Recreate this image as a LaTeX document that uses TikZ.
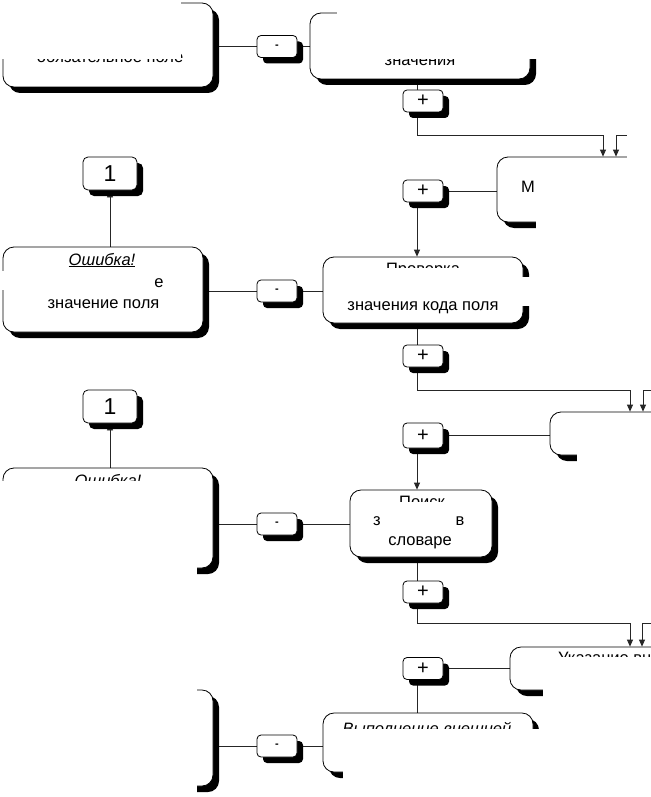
\documentclass[tikz,border=0pt]{standalone}
\usepackage{fontspec}
\setmainfont{Liberation Sans}
\usetikzlibrary{arrows.meta,shadows}
\pgfdeclarelayer{background}
\pgfsetlayers{background,main}
\begin{document}
\begin{tikzpicture}[x=1pt,y=-1pt,
  box/.style={draw=black,line width=0.8pt,fill=white,rounded corners=11pt,inner sep=0pt,
    drop shadow={shadow xshift=6pt,shadow yshift=-6pt,fill=black,opacity=1}},
  sbox/.style={box,rounded corners=4pt,minimum width=40pt,minimum height=22pt},
  plusbox/.style={sbox,font=\fontsize{20}{20}\selectfont},
  minusbox/.style={sbox,font=\fontsize{11}{11}\selectfont\bfseries},
  onebox/.style={box,rounded corners=5pt,minimum width=54pt,minimum height=33pt,font=\fontsize{23}{23}\selectfont},
  txt/.style={inner sep=0pt,anchor=base,font=\fontsize{16.5}{18}\selectfont},
  itxt/.style={txt,font=\fontsize{16.5}{18}\selectfont\itshape},
  conn/.style={line width=0.8pt,draw=black!85},
  arr/.style={conn,-{Triangle[length=7pt,width=6pt]}},
  patch/.style={fill=white,draw=none}]
\useasboundingbox (0,0) rectangle (650,797);

% boxes
\node[box,minimum width=210pt,minimum height=84pt] (A1) at (108,45) {};
\node[minusbox] (m1) at (277,46.5) {-};
\node[box,minimum width=220pt,minimum height=66pt] (A2) at (420,46) {};
\node[plusbox] (p1) at (423,101) {+};
\node[box,minimum width=260pt,minimum height=65pt] (B2) at (627,189.5) {};
\node[plusbox] (p2) at (423,191) {+};
\node[onebox] (o1) at (110,173.5) {1};
\node[box,minimum width=200pt,minimum height=85pt] (B1) at (103,289.5) {};
\node[minusbox] (m2) at (277,291) {-};
\node[box,minimum width=200pt,minimum height=66pt] (B3) at (423,290) {};
\node[plusbox] (p3) at (423,356) {+};
\node[box,minimum width=260pt,minimum height=43pt] (C2) at (680,433.5) {};
\node[plusbox,minimum height=25pt] (p4) at (423,435.5) {+};
\node[onebox] (o2) at (110,406.5) {1};
\node[box,minimum width=210pt,minimum height=100pt] (C1) at (108,518) {};
\node[minusbox] (m3) at (277,524) {-};
\node[box,minimum width=142pt,minimum height=67pt] (C3) at (421,523.5) {};
\node[plusbox] (p5) at (423,592) {+};
\node[box,minimum width=260pt,minimum height=43pt] (D2) at (640,668.5) {};
\node[plusbox] (p6) at (423,668.5) {+};
\node[box,minimum width=210pt,minimum height=96pt] (D1) at (108,738) {};
\node[minusbox] (m4) at (277,746) {-};
\node[box,minimum width=210pt,minimum height=59pt] (D3) at (428,742.5) {};

% connectors
\coordinate (sp) at (417,0);
\coordinate (r1a) at (603,135); \coordinate (r1b) at (616,135); \coordinate (r1c) at (627,135);
\coordinate (r2a) at (630,390); \coordinate (r2b) at (643,390); \coordinate (r2c) at (660,390);
\coordinate (r3a) at (630,623); \coordinate (r3b) at (642,623); \coordinate (r3c) at (660,623);
\begin{pgfonlayer}{background}
\fill[white] (-10,-10) rectangle (660,807);
\draw[conn] (m1.west -| A1.east) -- (m1.west);
\draw[conn] (m1.east) -- (m1.east -| A2.west);
\draw[conn] (A2.south -| sp) -- (p1.north -| sp);
\draw[arr] (p1.south -| sp) |- (r1a) -- (r1a |- B2.north);
\draw[arr] (r1c) -- (r1b) -- (r1b |- B2.north);
\draw[conn] (p2.east) -- (p2.east -| B2.west);
\draw[arr] (p2.south -| sp) -- (B3.north -| sp);
\draw[arr] (B1.north -| o1) -- (o1.south);
\draw[conn] (m2.west -| B1.east) -- (m2.west);
\draw[conn] (m2.east) -- (m2.east -| B3.west);
\draw[conn] (B3.south -| sp) -- (p3.north -| sp);
\draw[arr] (p3.south -| sp) |- (r2a) -- (r2a |- C2.north);
\draw[arr] (r2c) -- (r2b) -- (r2b |- C2.north);
\draw[conn] (p4.east) -- (p4.east -| C2.west);
\draw[arr] (p4.south -| sp) -- (C3.north -| sp);
\draw[arr] (C1.north -| o2) -- (o2.south);
\draw[conn] (m3.west -| C1.east) -- (m3.west);
\draw[conn] (m3.east) -- (m3.east -| C3.west);
\draw[conn] (C3.south -| sp) -- (p5.north -| sp);
\draw[arr] (p5.south -| sp) |- (r3a) -- (r3a |- D2.north);
\draw[arr] (r3c) -- (r3b) -- (r3b |- D2.north);
\draw[conn] (p6.east) -- (p6.east -| D2.west);
\draw[conn] (p6.south -| sp) -- (D3.north -| sp);
\draw[conn] (m4.west -| D1.east) -- (m4.west);
\draw[conn] (m4.east) -- (m4.east -| D3.west);
\end{pgfonlayer}

% texts
\node[txt] (t1) at (110,63) {обязательное поле};
\node[txt] (t2) at (420,66) {значения};
\node[itxt] (t3) at (102,265) {\underline{Ошибка!}};
\node[txt] (t4) at (159,287) {е};
\node[txt] (t5) at (103.5,308) {значение поля};
\node[txt] (t6) at (423,274) {Проверка};
\node[txt] (t7) at (423,310) {значения кода поля};
\node[txt,anchor=base west] (t8) at (521,192) {М};
\node[itxt] (t9) at (108,486) {\underline{Ошибка!}};
\node[txt] (t10) at (422,507) {Поиск};
\node[txt] (t11) at (377,525) {з};
\node[txt] (t12) at (460,525) {в};
\node[txt] (t13) at (420,545) {словаре};
\node[txt,anchor=base west] (t14) at (558,663) {Указание вн};
\node[itxt] (t15) at (427,734) {Выполнение внешней};

% white patches of the source
\fill[patch] (-10,-10) rectangle (181,59);
\fill[patch] (337,-10) rectangle (545,59);
\fill[patch] (627,-10) rectangle (900,250);
\fill[patch] (536,163) rectangle (900,250);
\fill[patch] (-10,271) rectangle (152,290);
\fill[patch] (333,268) rectangle (519,297);
\fill[patch] (517,277) rectangle (540,306);
\fill[patch] (577,420) rectangle (900,470);
\fill[patch] (381,502) rectangle (456,532);
\fill[patch] (-10,481) rectangle (207,565);
\fill[patch] (-10,565) rectangle (197,580);
\fill[patch] (543,657) rectangle (900,700);
\fill[patch] (343,729) rectangle (900,807);
\fill[patch] (-10,680) rectangle (197,807);
\end{tikzpicture}
\end{document}
